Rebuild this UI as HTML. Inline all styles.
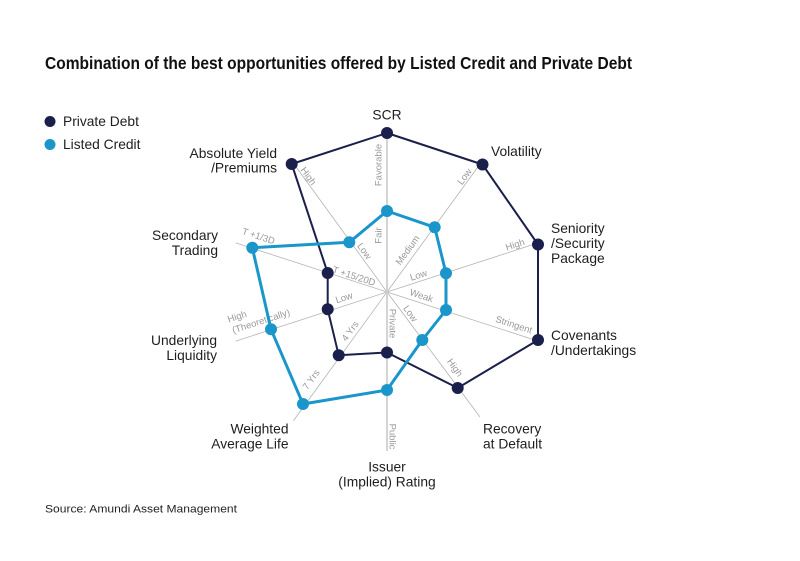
<!DOCTYPE html>
<html>
<head>
<meta charset="utf-8">
<style>
  html,body{margin:0;padding:0;background:#fff;}
  svg{display:block;}
  .lab{font-family:"Liberation Sans",sans-serif;font-size:13.8px;fill:#1e1e1e;}
  .sm{font-family:"Liberation Sans",sans-serif;font-size:9.5px;fill:#999;}
</style>
</head>
<body>
<svg width="800" height="561" viewBox="0 0 800 561" xmlns="http://www.w3.org/2000/svg">
  <rect width="800" height="561" fill="#fff"/>
  <!-- Title -->
  <text x="45" y="69" font-family="Liberation Sans, sans-serif" font-weight="bold" font-size="17.5" fill="#111" textLength="587" lengthAdjust="spacingAndGlyphs">Combination of the best opportunities offered by Listed Credit and Private Debt</text>

  <!-- Legend -->
  <circle cx="50" cy="121.5" r="5.5" fill="#1b1f4b"/>
  <text class="lab" x="63" y="126">Private Debt</text>
  <circle cx="50" cy="144.5" r="5.5" fill="#1a96cb"/>
  <text class="lab" x="63" y="149">Listed Credit</text>

  <!-- Axes -->
  <g stroke="#b3b3b3" stroke-width="0.8">
    <line x1="387" y1="292" x2="480.5" y2="163.4"/>
    <line x1="387" y1="292" x2="538.2" y2="242.9"/>
    <line x1="387" y1="292" x2="538.2" y2="341.1"/>
    <line x1="387" y1="292" x2="480" y2="417"/>
    <line x1="387" y1="292" x2="293.5" y2="420.6"/>
    <line x1="387" y1="292" x2="235.8" y2="341.1"/>
    <line x1="387" y1="292" x2="235.8" y2="242.9"/>
    <line x1="387" y1="292" x2="293.5" y2="163.4"/>
  </g>
  <line x1="387" y1="133" x2="387" y2="451" stroke="#cfcfcf" stroke-width="1.8"/>

  <!-- Small axis labels -->
  <g class="sm" text-anchor="middle">
    <text transform="translate(378,165) rotate(-90)" y="3.3">Favorable</text>
    <text transform="translate(378,235.5) rotate(-90)" y="3.3">Fair</text>
    <text transform="translate(464.5,176.5) rotate(-54)" y="3.3">Low</text>
    <text transform="translate(407.5,250) rotate(-54)" y="3.3">Medium</text>
    <text transform="translate(515,244.5) rotate(-18)" y="3.3">High</text>
    <text transform="translate(418.5,275) rotate(-18)" y="3.3">Low</text>
    <text transform="translate(421.5,295.5) rotate(18)" y="3.3">Weak</text>
    <text transform="translate(514,324.5) rotate(18)" y="3.3">Stringent</text>
    <text transform="translate(410.5,313.5) rotate(54)" y="3.3">Low</text>
    <text transform="translate(455,367.5) rotate(54)" y="3.3">High</text>
    <text transform="translate(393,323.5) rotate(90)" y="3.3">Private</text>
    <text transform="translate(393,436.5) rotate(90)" y="3.3">Public</text>
    <text transform="translate(350,331) rotate(-54)" y="3.3">4 Yrs</text>
    <text transform="translate(311,379.5) rotate(-54)" y="3.3">7 Yrs</text>
    <text transform="translate(344,297.5) rotate(-18)" y="3.3">Low</text>
    <text transform="translate(261,321) rotate(-18)" y="3.3">(Theoretically)</text>
    <text transform="translate(237,316.5) rotate(-18)" y="3.3">High</text>
    <text transform="translate(354,276) rotate(18)" y="3.3">T +15/20D</text>
    <text transform="translate(258.5,236) rotate(18)" y="3.3">T +1/3D</text>
    <text transform="translate(308.5,176) rotate(54)" y="3.3">High</text>
    <text transform="translate(364.5,251) rotate(54)" y="3.3">Low</text>
  </g>

  <!-- Private Debt series -->
  <polygon points="387,133 482.5,164.5 538,244.5 538,340 457.7,388 387,352.5 338.7,355.3 327.7,309.3 327.7,273 291.7,164" fill="none" stroke="#1b1f4b" stroke-width="2" stroke-linejoin="round"/>
  <g fill="#1b1f4b">
    <circle cx="387" cy="133" r="6"/>
    <circle cx="482.5" cy="164.5" r="6"/>
    <circle cx="538" cy="244.5" r="6"/>
    <circle cx="538" cy="340" r="6"/>
    <circle cx="457.7" cy="388" r="6"/>
    <circle cx="387" cy="352.5" r="6"/>
    <circle cx="338.7" cy="355.3" r="6"/>
    <circle cx="327.7" cy="309.3" r="6"/>
    <circle cx="327.7" cy="273" r="6"/>
    <circle cx="291.7" cy="164" r="6"/>
  </g>

  <!-- Listed Credit series -->
  <polygon points="387,211 434.7,227.3 446,273.3 446,310 422.3,340 387,390 303,404 271,329.3 252.3,247.7 349.3,242.3" fill="none" stroke="#1a96cb" stroke-width="3" stroke-linejoin="round"/>
  <g fill="#1a96cb">
    <circle cx="387" cy="211" r="6"/>
    <circle cx="434.7" cy="227.3" r="6"/>
    <circle cx="446" cy="273.3" r="6"/>
    <circle cx="446" cy="310" r="6"/>
    <circle cx="422.3" cy="340" r="6"/>
    <circle cx="387" cy="390" r="6"/>
    <circle cx="303" cy="404" r="6"/>
    <circle cx="271" cy="329.3" r="6"/>
    <circle cx="252.3" cy="247.7" r="6"/>
    <circle cx="349.3" cy="242.3" r="6"/>
  </g>

  <!-- Category labels -->
  <text class="lab" x="387" y="119.5" text-anchor="middle">SCR</text>
  <text class="lab" x="491" y="156">Volatility</text>
  <text class="lab" x="551" y="233">Seniority</text>
  <text class="lab" x="551" y="248">/Security</text>
  <text class="lab" x="551" y="263">Package</text>
  <text class="lab" x="551" y="340">Covenants</text>
  <text class="lab" x="551" y="355">/Undertakings</text>
  <text class="lab" x="483" y="433.5">Recovery</text>
  <text class="lab" x="483" y="448.5">at Default</text>
  <text class="lab" x="387" y="471.5" text-anchor="middle">Issuer</text>
  <text class="lab" x="387" y="486.5" text-anchor="middle">(Implied) Rating</text>
  <text class="lab" x="288.5" y="433.5" text-anchor="end">Weighted</text>
  <text class="lab" x="288.5" y="448.5" text-anchor="end">Average Life</text>
  <text class="lab" x="217" y="345" text-anchor="end">Underlying</text>
  <text class="lab" x="217" y="360" text-anchor="end">Liquidity</text>
  <text class="lab" x="218" y="240" text-anchor="end">Secondary</text>
  <text class="lab" x="218" y="255" text-anchor="end">Trading</text>
  <text class="lab" x="277" y="158" text-anchor="end">Absolute Yield</text>
  <text class="lab" x="277" y="172.5" text-anchor="end">/Premiums</text>

  <!-- Source -->
  <text x="45" y="512.5" font-family="Liberation Sans, sans-serif" font-size="11" fill="#222" textLength="192" lengthAdjust="spacingAndGlyphs">Source: Amundi Asset Management</text>
</svg>
</body>
</html>
